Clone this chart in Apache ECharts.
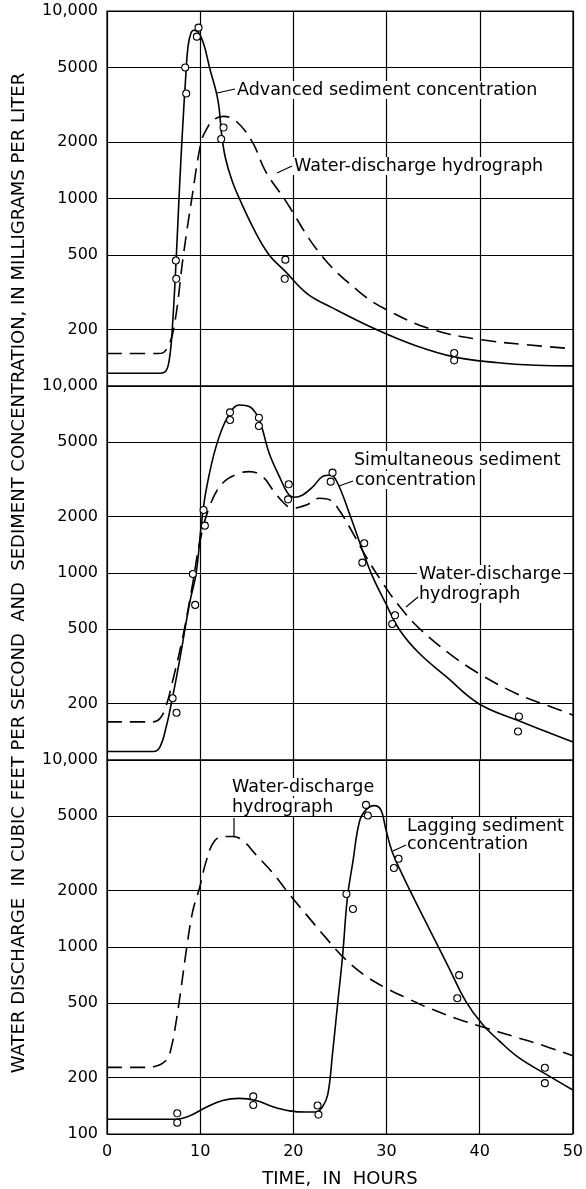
<!DOCTYPE html>
<html><head><meta charset="utf-8">
<script src="https://cdn.jsdelivr.net/npm/echarts@6/dist/echarts.min.js"></script>
<style>html,body{margin:0;padding:0;background:#fff}#c{width:586px;height:1189px}</style>
</head><body><div id="c"></div>
<script>
// ---------- DATA ----------
const xTicks = [0, 10, 20, 30, 40, 50];
const yLabelsTop = [200, 500, 1000, 2000, 5000, 10000];
const yLabelsMid = [200, 500, 1000, 2000, 5000, 10000];
const yLabelsBot = [100, 200, 500, 1000, 2000, 5000, 10000];

// Top panel: advanced sediment concentration
const topSedT = [0, 5.5, 6.3, 6.7, 7.0, 7.4, 7.8, 8.1, 8.45, 8.7, 9.0, 9.3, 9.8, 10.4, 11.0, 11.9, 12.3, 12.7, 13.4, 14.2, 15.8, 17.4, 19.1, 21.5, 24.2, 28.9, 33, 37.25, 42, 46, 50];
const topSedV = [117, 117, 120, 140, 200, 450, 1200, 2300, 4500, 6500, 7600, 7900, 7700, 6600, 5000, 3350, 2200, 1650, 1250, 1000, 680, 500, 410, 310, 261, 200, 165, 143, 133, 129, 128];
const topQT = [0, 5.5, 6.3, 7.14, 8.2, 9.1, 10.1, 10.7, 11.4, 12.5, 13.8, 15.6, 17.0, 19.0, 22.96, 27, 30, 34.9, 40, 45, 50];
const topQV = [149, 149, 155, 200, 500, 1000, 2000, 2350, 2620, 2740, 2600, 2000, 1400, 1000, 500, 320, 255, 200, 177, 166, 158];
const topPtsT = [7.39, 7.43, 8.39, 8.5, 9.64, 9.82, 12.25, 12.5, 19.07, 19.14, 37.25, 37.25];
const topPtsV = [467, 373, 5000, 3630, 7300, 8150, 2075, 2390, 373, 472, 150, 137];

// Middle panel: simultaneous sediment concentration
const midSedT = [0, 5.0, 5.7, 6.36, 6.9, 7.8, 8.86, 9.57, 10.1, 10.64, 11.7, 12.96, 14.2, 15.3, 16.2, 16.7, 17.4, 18.5, 19.4, 20.1, 21.0, 22.1, 23.1, 24.0, 24.75, 26.0, 27.4, 28.5, 29.9, 31.4, 33.5, 36.4, 39.9, 43.9, 47.1, 50];
const midSedV = [111, 111, 118, 151, 200, 343, 689, 1000, 1771, 2780, 4740, 6850, 7910, 7750, 6850, 5820, 4370, 3275, 2670, 2540, 2615, 2895, 3275, 3343, 3020, 2085, 1327, 956, 689, 496, 372, 279, 200, 164, 142, 125];
const midQT = [0, 5.0, 5.7, 6.36, 7.07, 8.14, 9.2, 9.93, 11.0, 12.4, 14.2, 15.3, 16.7, 17.8, 19.0, 19.9, 21.4, 22.8, 23.9, 24.9, 26.4, 27.8, 29.6, 31.4, 33.5, 36.7, 39.9, 43.9, 47.1, 50];
const midQV = [160, 160, 167, 196, 268, 457, 881, 1443, 2265, 3020, 3415, 3485, 3275, 2780, 2360, 2220, 2310, 2510, 2460, 2173, 1630, 1222, 881, 661, 506, 372, 290, 227, 197, 174];
const midPtsT = [13.2, 13.2, 16.3, 16.3, 19.5, 19.43, 24.2, 24.0, 10.36, 10.5, 9.21, 9.46, 7.04, 7.46, 27.6, 27.4, 30.9, 30.6, 44.2, 44.1];
const midPtsV = [7230, 6580, 6770, 6110, 2980, 2477, 3440, 3080, 2173, 1791, 988, 675, 214, 179, 1442, 1136, 594, 534, 171, 142];

// Bottom panel: lagging sediment concentration
const botSedT = [0, 7.4, 8.86, 10.64, 12.4, 14.2, 16.0, 17.8, 19.6, 21.4, 22.4, 23.1, 23.7, 24.2, 24.75, 25.3, 25.8, 26.4, 27.1, 27.8, 28.7, 29.4, 29.9, 30.6, 31.7, 33.1, 34.9, 36.7, 38.5, 40.3, 42.1, 44.2, 47.1, 50];
const botSedV = [120, 120, 125, 139, 151, 155, 151, 140, 133, 131, 131, 139, 163, 267, 494, 912, 1828, 2870, 4690, 5410, 5700, 5410, 4325, 3245, 2440, 1755, 1166, 774, 514, 386, 315, 256, 209, 172];
const botQT = [0, 3.6, 5.0, 6.36, 6.9, 7.43, 7.96, 8.5, 9.2, 9.93, 10.64, 11.5, 12.6, 13.5, 14.6, 16.0, 17.8, 19.6, 21.4, 23.5, 25.6, 27.8, 29.9, 32.1, 34.9, 37.8, 40.6, 43.5, 46.4, 50];
const botQV = [227, 227, 229, 248, 290, 402, 605, 950, 1553, 2070, 2870, 3665, 3900, 3900, 3700, 3110, 2488, 1905, 1490, 1119, 858, 698, 605, 535, 464, 410, 370, 334, 302, 262];
const botPtsT = [7.54, 7.54, 15.7, 15.7, 22.6, 22.7, 25.7, 26.4, 27.8, 28.0, 31.3, 30.8, 37.8, 37.6, 47.0, 47.0];
const botPtsV = [129, 115, 159, 143, 142, 127, 1922, 1598, 5754, 5050, 2965, 2645, 707, 532, 226, 187];

// ---------- CHART ----------
const FONT = '"DejaVu Sans", sans-serif';
const pair = (t, v) => t.map((x, i) => [x, v[i]]);
const fmt = v => v >= 10000 ? '10,000' : String(v);

const grids = [
  { left: 107, right: 13, top: 11, height: 375 },
  { left: 107, right: 13, top: 386, height: 374 },
  { left: 107, right: 13, top: 760, height: 375 }
].map(g => Object.assign(g, { show: true, borderColor: '#000', borderWidth: 1.2, backgroundColor: 'transparent' }));

const xAxes = [0, 1, 2].map(i => ({
  type: 'value', gridIndex: i, min: 0, max: 50, interval: 10,
  axisLine: { show: false }, axisTick: { show: false },
  axisLabel: { show: i === 2, color: '#000', fontSize: 16, fontFamily: FONT, margin: 10 },
  splitLine: { show: true, lineStyle: { color: '#000', width: 1.2 } },
  name: i === 2 ? 'TIME,  IN  HOURS' : '',
  nameLocation: 'middle', nameGap: 36,
  nameTextStyle: { color: '#000', fontSize: 18, fontFamily: FONT }
}));

const yAxes = [0, 1, 2].map(i => ({
  type: 'log', logBase: 10, gridIndex: i, min: 100, max: 10000,
  axisLine: { show: false }, axisTick: { show: false },
  axisLabel: { show: false }, splitLine: { show: false },
  name: i === 1 ? 'WATER DISCHARGE  IN CUBIC FEET PER SECOND  AND  SEDIMENT CONCENTRATION, IN MILLIGRAMS PER LITER' : '',
  nameLocation: 'middle', nameRotate: 90, nameGap: 79,
  nameTextStyle: { color: '#000', fontSize: 18, fontFamily: FONT }
}));

function gridLines(vals) {
  return {
    silent: true, symbol: ['none', 'none'],
    lineStyle: { color: '#000', width: 1.2, type: 'solid' },
    label: { show: true, position: 'start', distance: 9, color: '#000', fontSize: 16, fontFamily: FONT,
      formatter: p => fmt(p.value) },
    emphasis: { disabled: true },
    data: vals.map(v => ({ yAxis: v }))
  };
}

function lineSeries(idx, t, v, dashed, ml) {
  const s = {
    type: 'line', xAxisIndex: idx, yAxisIndex: idx, data: pair(t, v),
    showSymbol: false, smooth: 0.4, silent: true, z: 3,
    lineStyle: { color: '#000', width: 1.6, type: dashed ? [15, 8] : 'solid' }
  };
  if (ml) s.markLine = ml;
  return s;
}
function dotSeries(idx, t, v) {
  return {
    type: 'scatter', xAxisIndex: idx, yAxisIndex: idx, data: pair(t, v),
    symbol: 'circle', symbolSize: 7, silent: true, z: 5,
    itemStyle: { color: '#fff', borderColor: '#000', borderWidth: 1.1, opacity: 1 }
  };
}

const series = [
  lineSeries(0, topQT, topQV, true, gridLines(yLabelsTop)),
  lineSeries(0, topSedT, topSedV, false),
  dotSeries(0, topPtsT, topPtsV),
  lineSeries(1, midQT, midQV, true, gridLines(yLabelsMid)),
  lineSeries(1, midSedT, midSedV, false),
  dotSeries(1, midPtsT, midPtsV),
  lineSeries(2, botQT, botQV, true, gridLines(yLabelsBot)),
  lineSeries(2, botSedT, botSedV, false),
  dotSeries(2, botPtsT, botPtsV)
];

const ANN = '17.5px ' + FONT;
function txt(s, x, y) {
  return { type: 'text', x: x, y: y, z: 20, silent: true,
    style: { text: s, font: ANN, fill: '#000', verticalAlign: 'middle', align: 'left',
      backgroundColor: '#fff', padding: [0, 2] } };
}
function ln(x1, y1, x2, y2) {
  return { type: 'line', z: 21, silent: true, shape: { x1, y1, x2, y2 }, style: { stroke: '#000', lineWidth: 1.2 } };
}

const graphic = [
  txt('Advanced sediment concentration', 235, 90), ln(217, 93, 235, 89),
  txt('Water-discharge hydrograph', 292, 166), ln(277, 173, 292, 166),
  txt('Simultaneous sediment', 352, 460), txt('concentration', 353, 480), ln(339, 486, 353, 481),
  txt('Water-discharge', 417, 574), txt('hydrograph', 417, 594), ln(406, 607, 418, 597),
  txt('Water-discharge', 230, 787), txt('hydrograph', 230, 807), ln(234, 818, 234, 836),
  txt('Lagging sediment', 405, 826), txt('concentration', 405, 844), ln(393, 851, 406, 845)
];

const chart = echarts.init(document.getElementById('c'), null, { renderer: 'canvas' });
chart.setOption({
  animation: false, backgroundColor: '#fff',
  textStyle: { fontFamily: FONT },
  grid: grids, xAxis: xAxes, yAxis: yAxes, series: series, graphic: graphic
});
</script></body></html>
